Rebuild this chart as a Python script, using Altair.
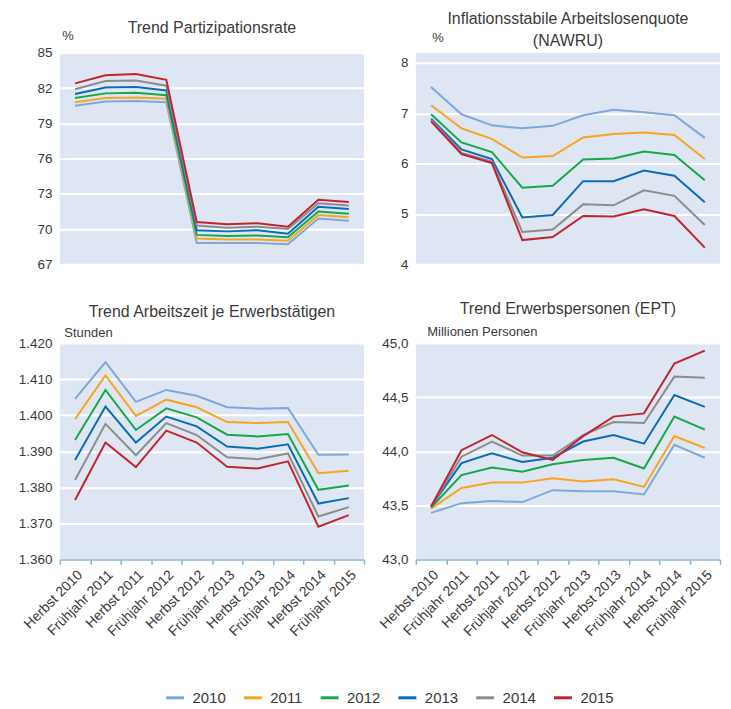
import altair as alt
import pandas as pd

FONT = "Liberation Sans"
TXT = "#3a3a3a"
BG = "#dfe6f3"

periods = ["Herbst 2010", "Frühjahr 2011", "Herbst 2011", "Frühjahr 2012", "Herbst 2012",
           "Frühjahr 2013", "Herbst 2013", "Frühjahr 2014", "Herbst 2014", "Frühjahr 2015"]
years = ["2010", "2011", "2012", "2013", "2014", "2015"]
colors = ["#7ca9d9", "#f7a520", "#14a84b", "#0a6cb8", "#8c8c8c", "#c3232f"]

# Trend Partizipationsrate (%)
part_2010 = [80.5, 80.85, 80.9, 80.8, 68.8, 68.8, 68.8, 68.7, 70.9, 70.7]
part_2011 = [80.8, 81.15, 81.2, 81.1, 69.2, 69.1, 69.1, 69.0, 71.2, 71.0]
part_2012 = [81.15, 81.55, 81.6, 81.4, 69.5, 69.4, 69.45, 69.3, 71.5, 71.3]
part_2013 = [81.5, 82.05, 82.1, 81.8, 69.9, 69.8, 69.9, 69.6, 71.9, 71.7]
part_2014 = [81.9, 82.6, 82.65, 82.2, 70.3, 70.1, 70.2, 70.0, 72.2, 72.0]
part_2015 = [82.4, 83.1, 83.2, 82.7, 70.6, 70.4, 70.5, 70.2, 72.5, 72.3]

# NAWRU (%)
nawru_2010 = [7.52, 6.98, 6.76, 6.70, 6.75, 6.96, 7.07, 7.02, 6.96, 6.51]
nawru_2011 = [7.16, 6.70, 6.49, 6.12, 6.15, 6.52, 6.59, 6.62, 6.57, 6.09]
nawru_2012 = [6.98, 6.42, 6.23, 5.52, 5.56, 6.08, 6.10, 6.24, 6.17, 5.67]
nawru_2013 = [6.89, 6.28, 6.09, 4.93, 4.98, 5.65, 5.65, 5.86, 5.76, 5.23]
nawru_2014 = [6.87, 6.21, 6.04, 4.64, 4.69, 5.19, 5.17, 5.47, 5.36, 4.78]
nawru_2015 = [6.84, 6.19, 6.01, 4.48, 4.54, 4.96, 4.95, 5.09, 4.96, 4.33]

# Trend Arbeitszeit je Erwerbstaetigen (Stunden)
az_2010 = [1404.5, 1414.7, 1403.7, 1407.0, 1405.4, 1402.2, 1401.8, 1402.0, 1389.0, 1389.1]
az_2011 = [1398.9, 1411.0, 1399.8, 1404.3, 1402.2, 1398.1, 1397.8, 1398.1, 1383.9, 1384.6]
az_2012 = [1393.1, 1407.0, 1395.9, 1401.9, 1399.4, 1394.6, 1394.1, 1394.8, 1379.3, 1380.5]
az_2013 = [1387.6, 1402.4, 1392.4, 1399.6, 1396.9, 1391.3, 1390.7, 1391.9, 1375.5, 1377.0]
az_2014 = [1382.0, 1397.6, 1388.9, 1397.8, 1394.5, 1388.3, 1387.8, 1389.4, 1371.9, 1374.5]
az_2015 = [1376.5, 1392.4, 1385.6, 1395.7, 1392.4, 1385.7, 1385.2, 1387.2, 1369.1, 1372.3]

# Trend Erwerbspersonen (Millionen)
ept_2010 = [43.43, 43.52, 43.54, 43.53, 43.64, 43.63, 43.63, 43.60, 44.06, 43.94]
ept_2011 = [43.47, 43.66, 43.71, 43.71, 43.75, 43.72, 43.74, 43.67, 44.14, 44.03]
ept_2012 = [43.48, 43.78, 43.85, 43.81, 43.88, 43.92, 43.94, 43.84, 44.32, 44.20]
ept_2013 = [43.49, 43.89, 43.98, 43.90, 43.94, 44.09, 44.15, 44.07, 44.52, 44.41]
ept_2014 = [43.49, 43.95, 44.09, 43.96, 43.96, 44.15, 44.27, 44.26, 44.69, 44.68]
ept_2015 = [43.49, 44.01, 44.15, 43.99, 43.92, 44.14, 44.32, 44.35, 44.81, 44.93]


def frame(series):
    rows = []
    for y, vals in zip(years, series):
        for p, v in zip(periods, vals):
            rows.append({"period": p, "year": y, "value": v})
    return pd.DataFrame(rows)


color_enc = alt.Color(
    "year:N",
    scale=alt.Scale(domain=years, range=colors),
    legend=alt.Legend(
        title=None, orient="none", direction="horizontal",
        legendX=105, legendY=636,
        symbolType="stroke", symbolSize=324, symbolStrokeWidth=3,
        labelFont=FONT, labelFontSize=15, labelColor=TXT,
        columnPadding=11, labelOffset=7,
    ),
)


def panel(df, title, title_offset, ydomain, yvalues, ylabel_expr, ytitle, tx, ty,
          height, show_x):
    if show_x:
        xaxis = alt.Axis(
            title=None, labelAngle=-45, labelFont=FONT, labelFontSize=14,
            labelColor=TXT, domainColor="#8db3de", domainWidth=1.5,
            tickColor="#8db3de", tickWidth=1.5, tickSize=5, tickBand="extent",
            grid=False, labelPadding=3,
        )
    else:
        xaxis = None
    x = alt.X("period:N", sort=periods, bandPosition=0.5,
              scale=alt.Scale(type="band", paddingInner=0, paddingOuter=0),
              axis=xaxis)
    y = alt.Y(
        "value:Q",
        scale=alt.Scale(domain=ydomain, nice=False, zero=False),
        axis=alt.Axis(
            title=ytitle, titleAngle=0, titleAlign="left", titleBaseline="bottom",
            titleX=tx, titleY=ty, titleFont=FONT, titleFontSize=13,
            titleFontWeight="normal", titleColor=TXT,
            values=yvalues, labelExpr=ylabel_expr, labelFont=FONT,
            labelFontSize=13.5, labelColor=TXT, labelPadding=8,
            domain=False, ticks=False, grid=True, gridColor="white", gridWidth=2,
        ),
    )
    return (
        alt.Chart(df)
        .mark_line(strokeWidth=2)
        .encode(x=x, y=y, color=color_enc)
        .properties(
            width=305, height=height,
            view=alt.ViewBackground(fill=BG, strokeWidth=0),
            title=alt.Title(
                title, font=FONT, fontSize=16, fontWeight="normal", color=TXT,
                anchor="middle", frame="group", baseline="bottom",
                offset=title_offset, lineHeight=22,
            ),
        )
    )


p1 = panel(frame([part_2010, part_2011, part_2012, part_2013, part_2014, part_2015]),
           "Trend Partizipationsrate", -22, [67, 85], [67, 70, 73, 76, 79, 82, 85],
           "format(datum.value, 'd')", "%", 2, -10, 212, False)
p2 = panel(frame([nawru_2010, nawru_2011, nawru_2012, nawru_2013, nawru_2014, nawru_2015]),
           ["Inflationsstabile Arbeitslosenquote", "(NAWRU)"], -33, [4, 8.2],
           [4, 5, 6, 7, 8], "format(datum.value, 'd')", "%", 16, -8, 212, False)
p3 = panel(frame([az_2010, az_2011, az_2012, az_2013, az_2014, az_2015]),
           "Trend Arbeitszeit je Erwerbstätigen", -10, [1360, 1420],
           [1360, 1370, 1380, 1390, 1400, 1410, 1420],
           "replace(format(datum.value, ','), ',', '.')", "Stunden", 4, -4, 217, True)
p4 = panel(frame([ept_2010, ept_2011, ept_2012, ept_2013, ept_2014, ept_2015]),
           "Trend Erwerbspersonen (EPT)", -8, [43, 45], [43, 43.5, 44, 44.5, 45],
           "replace(format(datum.value, '.1f'), '.', ',')", "Millionen Personen",
           11, -5, 217, True)

chart = (
    alt.concat(p1, p2, p3, p4, columns=2, spacing=alt.RowColnumber(row=30, column=12))
    .properties(padding={"left": 10, "top": 2, "right": 2, "bottom": 0})
    .configure_view(fill=BG, stroke="transparent")
)

chart.save("out.html", embed_options={"renderer": "svg", "actions": False})
